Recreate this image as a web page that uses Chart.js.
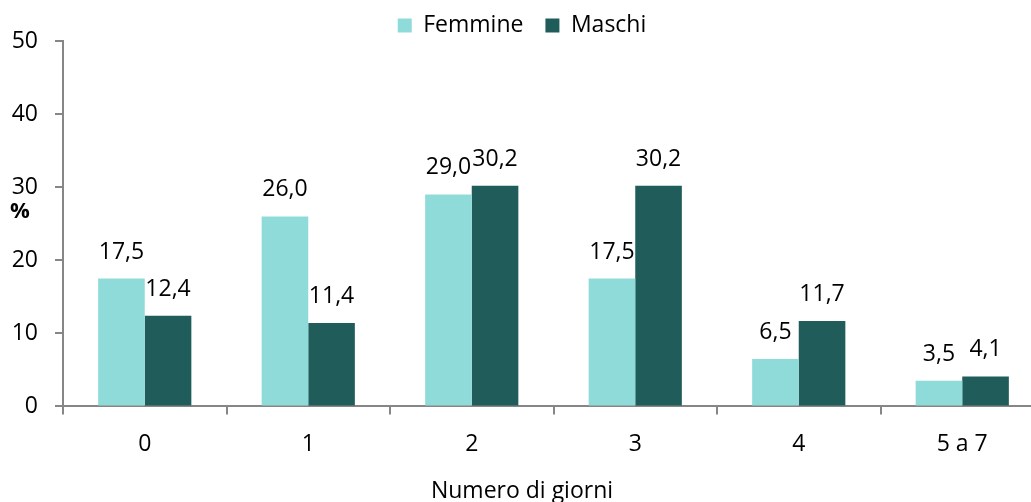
<!DOCTYPE html>
<html>
<head>
<meta charset="utf-8">
<script src="https://cdn.jsdelivr.net/npm/chart.js@4.4.0/dist/chart.umd.min.js"></script>
<style>
  html, body { margin: 0; padding: 0; background: #fff; overflow: hidden; }
  #box { width: 1044px; height: 502px; }
</style>
</head>
<body>
<div id="box"><canvas id="grafico" width="1044" height="502"></canvas></div>
<script>
// dati
const categorie = ['0', '1', '2', '3', '4', '5 a 7'];
const femmine = [17.5, 26.0, 29.0, 17.5, 6.5, 3.5];
const maschi = [12.4, 11.4, 30.2, 30.2, 11.7, 4.1];
const tickY = [0, 10, 20, 30, 40, 50];

const FONT = '"Open Sans", sans-serif';
const GRIGIO = '#868686';

// etichette dei valori sopra le barre (virgola decimale)
const etichetteValori = {
    id: 'etichetteValori',
    afterDatasetsDraw(chart) {
        const ctx = chart.ctx;
        ctx.save();
        ctx.font = '23px ' + FONT;
        ctx.fillStyle = '#000';
        ctx.textAlign = 'center';
        ctx.textBaseline = 'alphabetic';
        chart.data.datasets.forEach((ds, i) => {
            chart.getDatasetMeta(i).data.forEach((bar, j) => {
                const testo = ds.data[j].toFixed(1).replace('.', ',');
                ctx.fillText(testo, bar.x, bar.y - 20);
            });
        });
        ctx.restore();
    },
};

// "%" orizzontale accanto all'asse y
const unitaY = {
    id: 'unitaY',
    afterDraw(chart) {
        const ctx = chart.ctx;
        ctx.save();
        ctx.font = 'bold 22px ' + FONT;
        ctx.fillStyle = '#000';
        ctx.textAlign = 'center';
        ctx.textBaseline = 'middle';
        ctx.fillText('%', 20, 212);
        ctx.restore();
    },
};

// la legenda occupa meno spazio in verticale: l'area del grafico parte a y=41
const altezzaLegenda = {
    id: 'altezzaLegenda',
    afterInit(chart) {
        const leg = chart.legend;
        if (!leg) return;
        const fitOrig = leg.fit.bind(leg);
        leg.fit = function () {
            fitOrig();
            this.height = 49;
        };
    },
};

new Chart(document.getElementById('grafico').getContext('2d'), {
    type: 'bar',
    data: {
        labels: categorie,
        datasets: [
            {
                label: 'Femmine',
                data: femmine,
                backgroundColor: '#8FDBD9',
                borderWidth: 0,
            },
            {
                label: 'Maschi',
                data: maschi,
                backgroundColor: '#1F5C5A',
                borderWidth: 0,
            },
        ],
    },
    options: {
        responsive: false,
        animation: false,
        devicePixelRatio: 1,
        layout: { padding: { top: -8, bottom: -3 } },
        datasets: {
            bar: { categoryPercentage: 0.57, barPercentage: 1 },
        },
        plugins: {
            legend: {
                position: 'top',
                labels: {
                    boxWidth: 14,
                    boxHeight: 14,
                    padding: 22,
                    color: '#000',
                    font: { family: FONT, size: 23 },
                },
            },
            title: {
                display: true,
                position: 'bottom',
                text: 'Numero di giorni',
                color: '#000',
                font: { family: FONT, size: 23, weight: 'normal' },
                padding: 0,
            },
            tooltip: { enabled: false },
        },
        scales: {
            x: {
                grid: {
                    offset: true,
                    drawOnChartArea: false,
                    drawTicks: true,
                    tickLength: 8,
                    color: GRIGIO,
                    lineWidth: 2,
                },
                border: { color: GRIGIO, width: 2 },
                ticks: {
                    color: '#000',
                    padding: 16,
                    font: { family: FONT, size: 23 },
                },
                afterFit(s) { s.height = 71; },
            },
            y: {
                min: 0,
                max: 50,
                afterBuildTicks(s) { s.ticks = tickY.map((v) => ({ value: v })); },
                grid: {
                    drawOnChartArea: false,
                    drawTicks: true,
                    tickLength: 8,
                    color: GRIGIO,
                    lineWidth: 2,
                },
                border: { color: GRIGIO, width: 2 },
                ticks: {
                    color: '#000',
                    padding: 17,
                    font: { family: FONT, size: 23 },
                },
                afterFit(s) { s.width = 63; },
            },
        },
    },
    plugins: [etichetteValori, unitaY, altezzaLegenda],
});
</script>
</body>
</html>
